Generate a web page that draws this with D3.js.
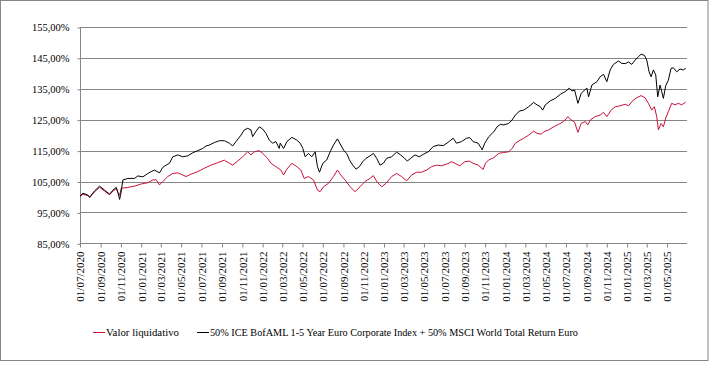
<!DOCTYPE html>
<html>
<head>
<meta charset="utf-8">
<script src="https://cdn.jsdelivr.net/npm/d3@7"></script>
<style>
  html, body { margin: 0; padding: 0; background: #fff; }
  svg { display: block; }
  text { font-family: "Liberation Serif", "DejaVu Serif", serif; fill: #000; }
</style>
</head>
<body>
<svg id="chart"></svg>
<script>
(function (d3) {
  "use strict";

  /***** Données *****/
  var startDate = new Date(2020, 6, 1);
  var endDate = new Date(2025, 5, 30);
  var yTicks = [85, 95, 105, 115, 125, 135, 145, 155];
  var seriesNames = ["Valor liquidativo",
    "50% ICE BofAML 1-5 Year Euro Corporate Index + 50% MSCI World Total Return Euro"];

  // jours écoulés depuis le 01/07/2020
  var navDay = [0, 9, 24, 29, 44, 59, 74, 89, 99, 109, 114, 119, 124, 144, 164, 184, 204, 219, 229, 239,
    249, 264, 279, 294, 309, 319, 334, 354, 374, 394, 414, 434, 449, 459, 474, 489, 504, 514, 524, 539,
    549, 564, 574, 589, 604, 612, 622, 637, 652, 664, 674, 687, 702, 714, 722, 732, 747, 762, 774, 784,
    797, 812, 827, 842, 857, 872, 882, 894, 907, 920, 937, 952, 967, 982, 997, 1012, 1027, 1042, 1057, 1072,
    1087, 1102, 1117, 1127, 1142, 1157, 1170, 1182, 1197, 1212, 1219, 1229, 1244, 1259, 1274, 1289, 1299, 1309, 1319, 1334,
    1349, 1364, 1374, 1387, 1394, 1409, 1424, 1439, 1454, 1467, 1477, 1487, 1497, 1507, 1519, 1527, 1534, 1549, 1564, 1574,
    1584, 1597, 1609, 1624, 1639, 1649, 1664, 1674, 1687, 1699, 1709, 1719, 1727, 1734, 1739, 1747, 1754, 1761, 1769, 1779,
    1789, 1799, 1809, 1821];
  var navValue = [100.2, 100.9, 100.4, 99.8, 101.7, 103.1, 101.9, 100.7, 101.9, 102.7, 101.4, 100.5, 102.8, 103.1, 103.5, 104.2, 104.6, 105.5, 105.6, 103.9,
    105.0, 106.6, 107.6, 107.8, 107.1, 106.6, 107.4, 108.2, 109.3, 110.3, 111.1, 111.9, 110.9, 110.3, 111.6, 113.0, 114.6, 113.6, 114.6, 115.0,
    114.1, 112.5, 110.9, 109.8, 108.7, 107.1, 109.0, 110.9, 109.8, 108.7, 106.0, 106.6, 105.5, 102.2, 101.7, 103.3, 104.4, 106.6, 108.7, 107.1,
    105.5, 103.3, 101.7, 103.3, 105.0, 106.0, 106.9, 104.7, 103.3, 104.4, 106.6, 107.6, 106.6, 105.2, 107.1, 108.0, 108.0, 108.7, 109.8, 110.3,
    110.1, 110.6, 111.4, 110.9, 110.1, 111.4, 111.6, 110.9, 110.3, 108.9, 110.9, 112.0, 112.7, 114.1, 114.4, 114.6, 115.7, 117.4, 118.1, 119.0,
    120.0, 121.3, 120.6, 120.3, 121.1, 121.7, 122.7, 123.5, 124.4, 126.0, 124.9, 124.2, 120.9, 123.8, 124.4, 123.3, 124.9, 126.0, 126.5, 127.4,
    126.0, 128.1, 129.2, 129.5, 130.0, 129.5, 131.4, 132.1, 132.8, 132.1, 130.3, 128.1, 129.2, 126.0, 121.7, 123.8, 122.7, 125.5, 127.6, 130.3,
    129.8, 130.3, 129.8, 130.7];

  var benchDay = [0, 9, 24, 29, 44, 59, 74, 89, 99, 109, 114, 119, 122, 129, 144, 164, 174, 189, 204, 214,
    224, 239, 249, 259, 269, 279, 294, 309, 324, 339, 354, 369, 379, 389, 404, 419, 434, 449, 459, 469,
    484, 494, 504, 514, 519, 529, 539, 549, 559, 569, 579, 589, 599, 602, 612, 622, 637, 652, 662, 670,
    677, 687, 697, 707, 714, 720, 730, 742, 752, 762, 774, 784, 794, 802, 810, 820, 830, 840, 850, 860,
    872, 882, 892, 902, 912, 922, 937, 952, 964, 974, 984, 994, 1007, 1020, 1032, 1047, 1062, 1077, 1092, 1107,
    1122, 1132, 1147, 1162, 1172, 1182, 1197, 1207, 1209, 1217, 1229, 1244, 1254, 1264, 1274, 1289, 1299, 1309, 1321, 1334,
    1349, 1364, 1374, 1384, 1391, 1399, 1414, 1429, 1444, 1459, 1471, 1479, 1487, 1497, 1507, 1517, 1524, 1529, 1539, 1554,
    1564, 1574, 1584, 1594, 1604, 1619, 1629, 1641, 1649, 1659, 1669, 1679, 1687, 1697, 1704, 1711, 1717, 1724, 1731, 1737,
    1744, 1749, 1754, 1761, 1769, 1777, 1784, 1794, 1804, 1814, 1821];
  var benchValue = [100.3, 101.2, 100.6, 99.9, 102.0, 103.5, 102.2, 100.9, 102.2, 103.1, 101.5, 99.2, 100.5, 105.5, 106.0, 106.0, 106.8, 106.5, 107.6, 108.2,
    108.7, 107.8, 109.6, 110.3, 110.9, 113.0, 113.6, 113.0, 113.3, 114.3, 115.0, 115.7, 116.5, 116.8, 117.6, 118.2, 118.2, 117.4, 116.5, 117.9,
    120.0, 121.7, 122.2, 121.7, 119.5, 121.2, 122.7, 122.0, 120.6, 118.4, 117.4, 117.9, 115.7, 117.4, 115.7, 117.9, 119.3, 118.4, 117.4, 115.7,
    113.0, 114.1, 113.0, 114.6, 109.8, 108.0, 110.9, 112.0, 114.6, 116.8, 118.8, 116.8, 114.9, 114.1, 112.0, 110.3, 109.0, 109.8, 111.4, 112.5,
    113.3, 114.1, 112.5, 110.3, 110.9, 112.5, 113.0, 114.5, 113.6, 112.7, 111.6, 112.5, 113.6, 113.0, 113.8, 114.6, 116.3, 116.8, 116.6, 117.7,
    119.0, 117.4, 117.9, 119.0, 119.2, 117.9, 117.4, 115.7, 115.2, 117.4, 119.5, 121.1, 122.7, 123.5, 123.3, 123.8, 124.9, 126.5, 127.8, 128.1,
    129.2, 130.6, 129.8, 129.2, 128.1, 129.8, 131.1, 131.9, 133.2, 134.1, 135.2, 134.3, 134.6, 130.3, 133.5, 134.6, 135.2, 132.4, 136.2, 137.3,
    138.9, 139.7, 137.3, 141.1, 142.9, 144.0, 143.2, 143.2, 143.7, 142.9, 144.3, 145.4, 146.2, 145.8, 144.3, 140.5, 138.9, 141.1, 139.5, 132.4,
    136.2, 134.1, 131.9, 136.0, 137.8, 141.6, 141.8, 140.5, 141.4, 141.1, 141.6];

  /***** Configuration *****/
  var width = 713;
  var height = 365;
  var margin = { top: 27, right: 26, bottom: 121.7, left: 80 };
  var plotRight = width - margin.right;
  var plotBottom = height - margin.bottom;
  var gridColor = "#868686";
  var navColor = "#c8113a";

  var svg = d3.select("#chart")
    .attr("width", width)
    .attr("height", height);

  // cadre du graphique
  svg.append("rect")
    .attr("x", 0.5)
    .attr("y", 0.5)
    .attr("width", 707.5)
    .attr("height", 360)
    .attr("fill", "none")
    .attr("stroke", gridColor)
    .attr("stroke-width", 1);

  /***** Échelles *****/
  var x = d3.scaleTime().domain([startDate, endDate]).range([margin.left, plotRight]);
  var y = d3.scaleLinear().domain([85, 155]).range([plotBottom, margin.top]);

  function toDate(n) { return d3.timeDay.offset(startDate, n); }
  var fmtPct = function (v) { return d3.format(".2f")(v).replace(".", ",") + "%"; };

  /***** Grille *****/
  svg.append("g")
    .selectAll("line")
    .data(yTicks.slice(1))
    .enter()
    .append("line")
    .attr("x1", margin.left)
    .attr("x2", plotRight)
    .attr("y1", function (d) { return Math.round(y(d)) + 0.5; })
    .attr("y2", function (d) { return Math.round(y(d)) + 0.5; })
    .attr("stroke", gridColor);

  /***** Axes *****/
  var yAxis = d3.axisLeft(y).tickValues(yTicks).tickSize(3).tickPadding(8).tickFormat(fmtPct);
  var yAxisGroup = svg.append("g")
    .attr("transform", "translate(" + (margin.left + 0.5) + ",0.5)")
    .call(yAxis);
  yAxisGroup.selectAll("path, line").attr("stroke", gridColor);
  yAxisGroup.select(".domain").attr("d", "M0," + y(155) + "V" + y(85));
  yAxisGroup.selectAll("text")
    .style("font-family", "'Liberation Serif', serif")
    .style("font-size", "10.5px");

  var xAxis = d3.axisBottom(x)
    .ticks(d3.timeMonth.every(2))
    .tickSize(4)
    .tickFormat(d3.timeFormat("%d/%m/%Y"));
  var xAxisGroup = svg.append("g")
    .attr("transform", "translate(0," + (Math.round(plotBottom) + 0.5) + ")")
    .call(xAxis);
  xAxisGroup.selectAll("path, line").attr("stroke", gridColor);
  xAxisGroup.select(".domain").attr("d", "M" + margin.left + ",0H" + plotRight);
  xAxisGroup.selectAll("text")
    .style("font-family", "'Liberation Serif', serif")
    .style("font-size", "11px")
    .attr("text-anchor", "end")
    .attr("transform", "rotate(-90)")
    .attr("x", -8)
    .attr("y", 0)
    .attr("dy", "0.35em");

  /***** Séries *****/
  var line = d3.line()
    .x(function (d) { return x(toDate(d[0])); })
    .y(function (d) { return y(d[1]); });

  var navData = d3.zip(navDay, navValue);
  var benchData = d3.zip(benchDay, benchValue);

  svg.append("path")
    .datum(navData)
    .attr("fill", "none")
    .attr("stroke", navColor)
    .attr("stroke-width", 1)
    .attr("d", line);

  svg.append("path")
    .datum(benchData)
    .attr("fill", "none")
    .attr("stroke", "#000")
    .attr("stroke-width", 1)
    .attr("d", line);

  /***** Légende *****/
  var legendY = 332;
  var legendItems = [
    { name: seriesNames[0], color: navColor, x: 93, len: 73 },
    { name: seriesNames[1], color: "#000", x: 197, len: 368 }
  ];
  var legend = svg.append("g")
    .selectAll("g")
    .data(legendItems)
    .enter()
    .append("g")
    .attr("transform", function (d) { return "translate(" + d.x + "," + legendY + ")"; });
  legend.append("line")
    .attr("x1", 0)
    .attr("x2", 12)
    .attr("y1", 0.5)
    .attr("y2", 0.5)
    .attr("stroke", function (d) { return d.color; });
  legend.append("text")
    .attr("x", 13)
    .attr("y", 4)
    .attr("textLength", function (d) { return d.len; })
    .attr("lengthAdjust", "spacingAndGlyphs")
    .style("font-size", "10.5px")
    .text(function (d) { return d.name; });

})(d3);
</script>
</body>
</html>
